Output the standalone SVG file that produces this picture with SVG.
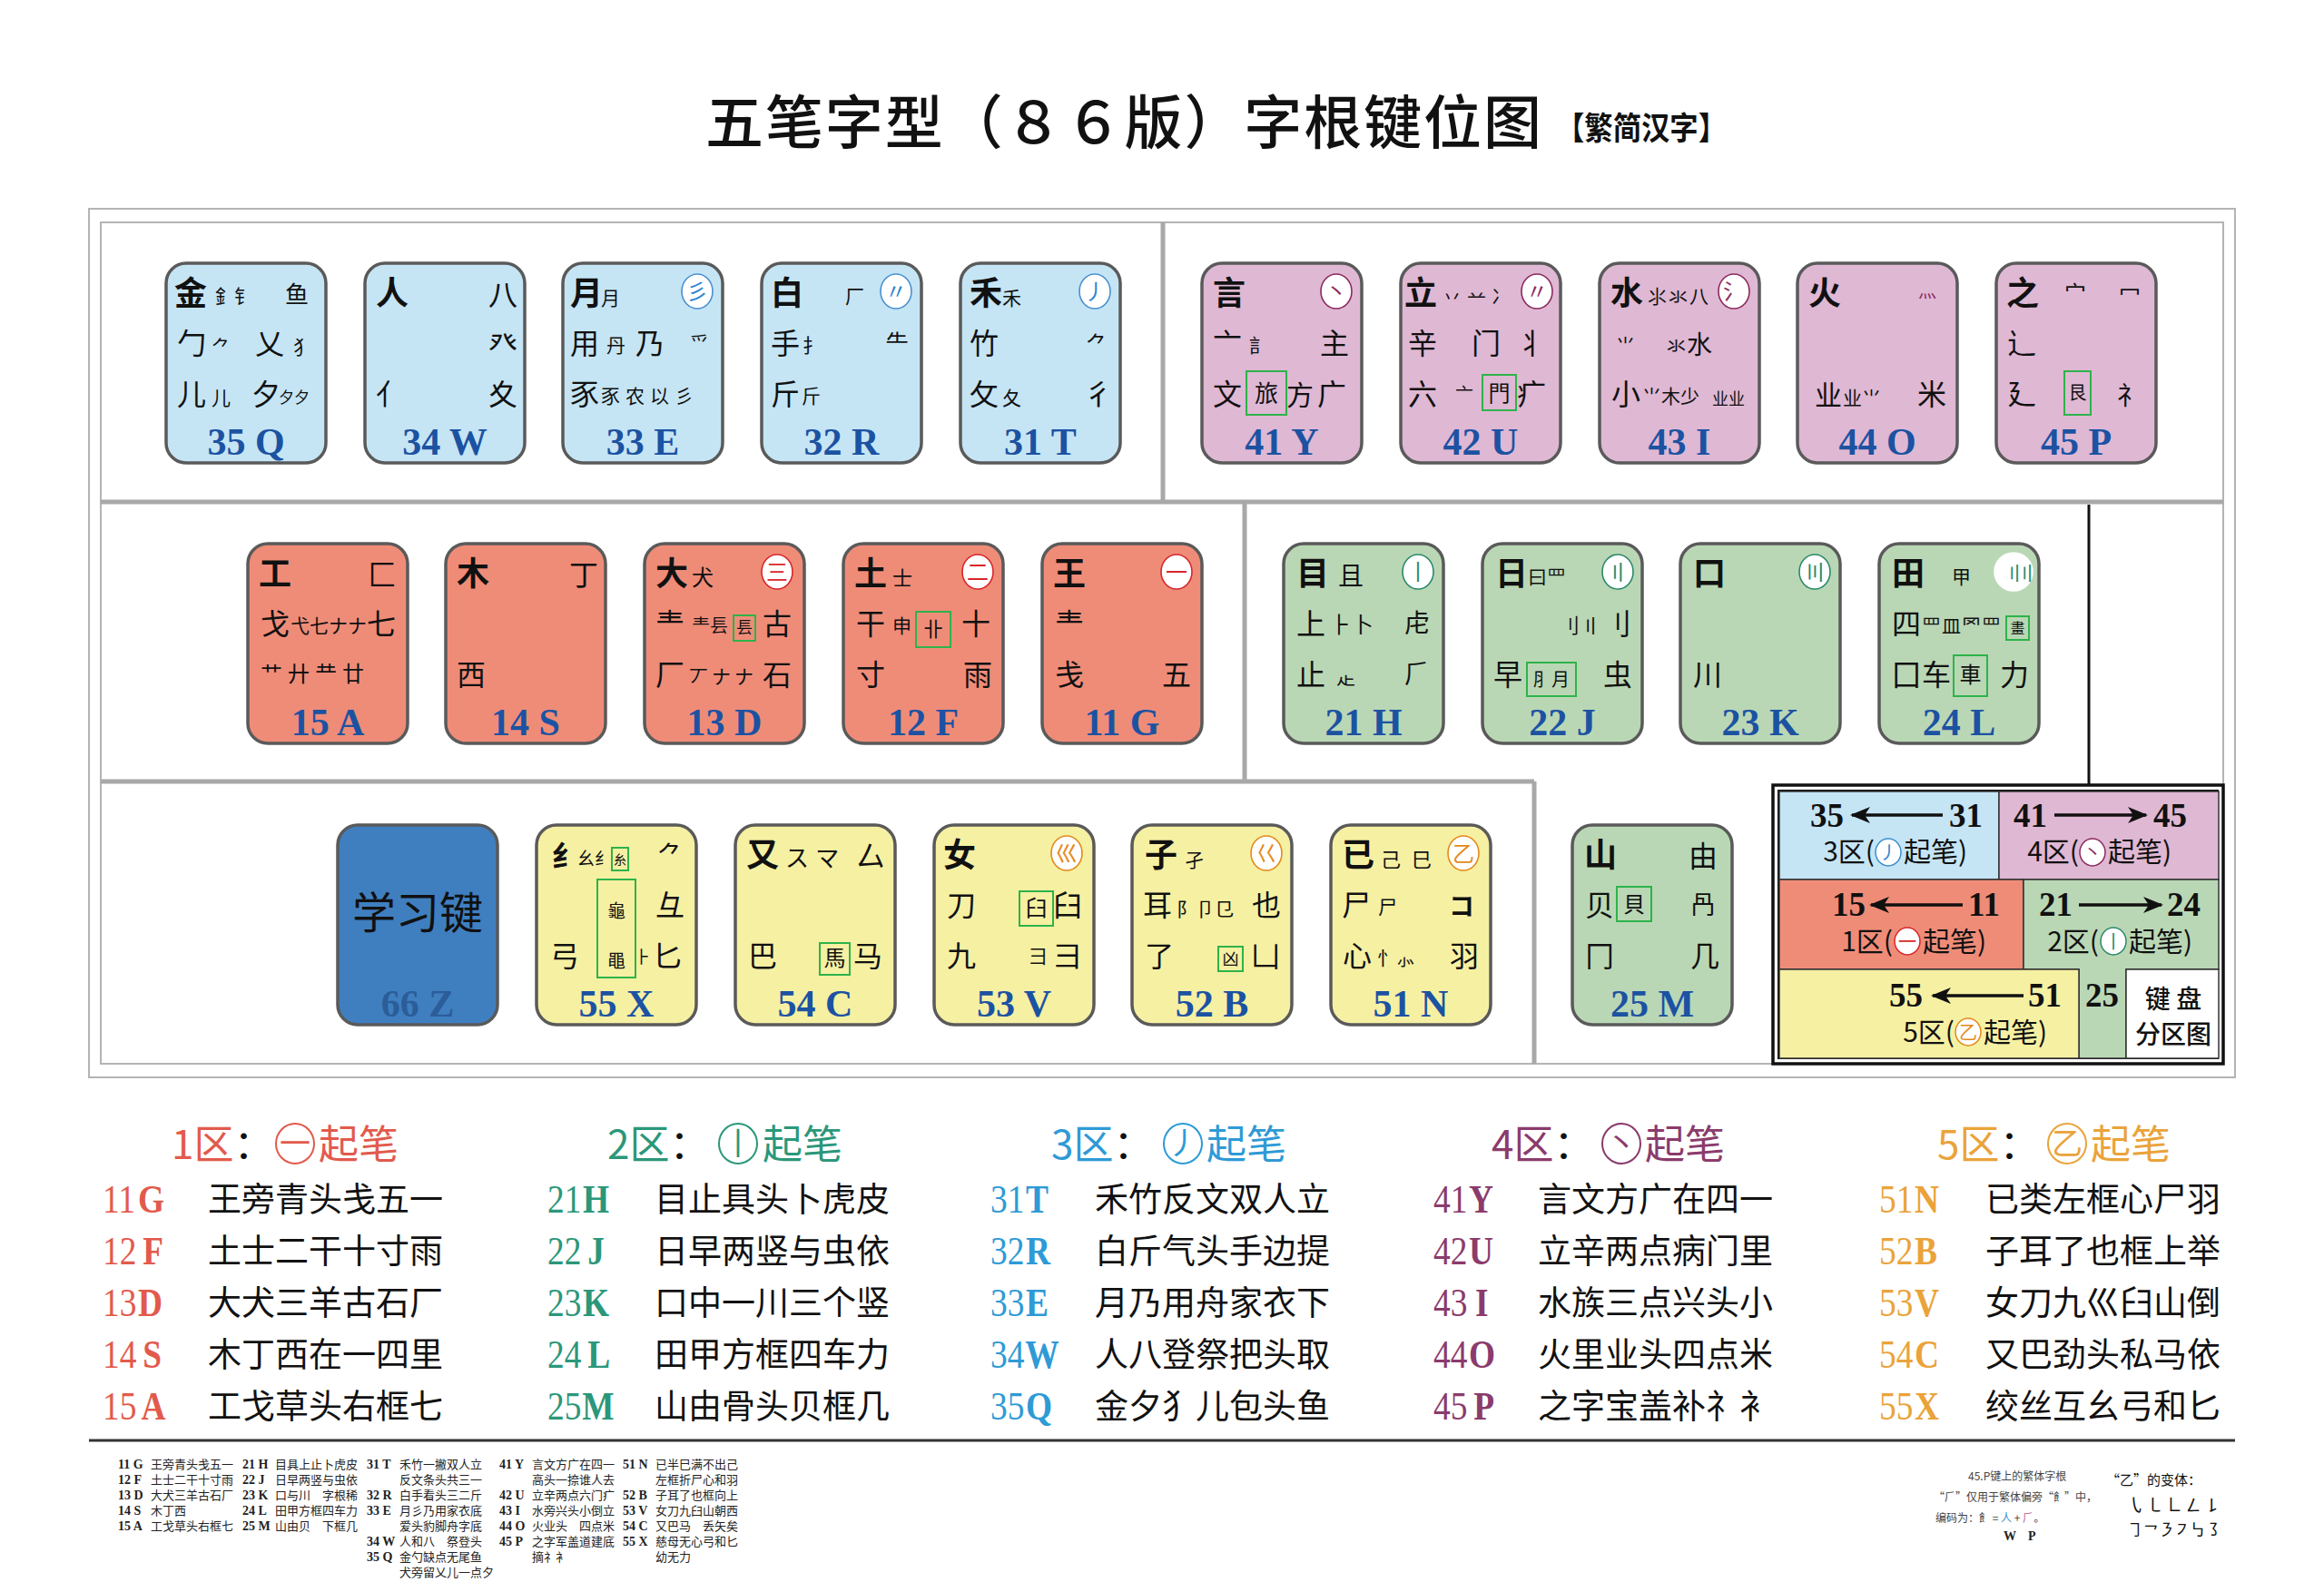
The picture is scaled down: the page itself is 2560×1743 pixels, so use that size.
<svg xmlns="http://www.w3.org/2000/svg" width="2560" height="1743" viewBox="0 0 2560 1743">
<defs>
<style>
text{font-family:"Noto Sans CJK SC","Noto Sans CJK JP",sans-serif;fill:#111}
.m{font-size:36px;font-weight:700}
.n{font-size:32px}
.s{font-size:21px}
.t{font-size:17px}
.k{stroke:#5a5a5a;stroke-width:3.5}
.c1{fill:#ef8c78}.c2{fill:#bad7b5}.c3{fill:#c5e5f5}.c4{fill:#dfb8d4}.c5{fill:#f6f0a3}
.lb{font-family:"Liberation Serif",serif;font-weight:700;font-size:42px;fill:#1c52a2;text-anchor:middle}
.gb{fill:none;stroke:#2db34a;stroke-width:2}
.ic{fill:#fff;stroke-width:1.6}
.it{font-size:24px;text-anchor:middle}
.ib{fill:#2f86cf}.ip{fill:#8c2a5c}.ir{fill:#d8262b}.ig{fill:#2a8a6a}.io{fill:#e48a1a}
.ln{font-family:"Liberation Serif",serif;font-weight:700;font-size:37px;fill:#111}
.zl{font-size:30px}
.hd{font-size:44px}
.cd{font-family:"Liberation Serif",serif;font-size:44px}
.cl{font-family:"Liberation Serif",serif;font-size:44px;font-weight:700}
.mn{font-size:37px}
.R{fill:#e25a4c}.G{fill:#2b977a}.B{fill:#2e9ad6}.P{fill:#8b3b6c}.O{fill:#eaa33a}
.blk{fill:#111}
.ft{font-size:13px;fill:#222}
.fc{font-family:"Liberation Serif",serif;font-weight:700;font-size:14px;fill:#222}
.sep{stroke:#a8a8a8;stroke-width:5;fill:none}
.fr{fill:none;stroke:#b4b4b4;stroke-width:2}
.lr{stroke:#333;stroke-width:1.5}
.arr{stroke:#111;stroke-width:3.5;fill:none;marker-end:url(#ah)}
</style>
<marker id="ah" markerUnits="userSpaceOnUse" markerWidth="22" markerHeight="18" refX="20" refY="9" orient="auto">
<path d="M0,0 L22,9 L0,18 L6,9 z" fill="#111"/>
</marker>
</defs>
<rect width="2560" height="1743" fill="#fff"/>

<g id="title">
<text x="777" y="158" textLength="921" lengthAdjust="spacing" style="font-size:64px;font-weight:500">五笔字型（８６版）字根键位图</text>
<text x="1714" y="154" textLength="188" lengthAdjust="spacingAndGlyphs" style="font-size:35px;font-weight:700">【繁简汉字】</text>
</g>

<g id="frame">
<rect class="fr" x="98" y="230" width="2364" height="957"/>
<rect class="fr" x="111" y="245" width="2338" height="927"/>
<line class="sep" x1="111" y1="553" x2="2449" y2="553"/>
<line class="sep" x1="1281" y1="245" x2="1281" y2="553"/>
<line class="sep" x1="1371" y1="553" x2="1371" y2="861"/>
<line class="sep" x1="111" y1="861" x2="1690" y2="861"/>
<line class="sep" x1="1690" y1="861" x2="1690" y2="1172"/>
<line x1="2301" y1="556" x2="2301" y2="866" stroke="#111" stroke-width="3"/>
</g>

<!-- Row 1: zone 3 -->
<g id="key-35Q" transform="translate(183,290)">
<rect class="k c3" width="176" height="220" rx="22"/>
<text class="m" x="9" y="46">金</text>
<text class="s" x="54" y="44">釒钅</text>
<text x="131" y="44" style="font-size:26px">鱼</text>
<text class="n" x="12" y="100">勹</text>
<text class="s" x="50" y="100">⺈</text>
<text class="n" x="98" y="100">乂</text>
<text class="s" x="140" y="100">犭</text>
<text class="n" x="12" y="156">儿</text>
<text class="s" x="50" y="156">儿</text>
<text class="n" x="94" y="156">夕</text>
<text class="t" x="124" y="154">夕夕</text>
<text class="lb" x="88" y="211">35 Q</text>
</g>
<g id="key-34W" transform="translate(402,290)">
<rect class="k c3" width="176" height="220" rx="22"/>
<text class="m" x="12" y="46">人</text>
<text class="n" x="136" y="46">八</text>
<text class="n" x="136" y="100">癶</text>
<text class="n" x="12" y="156">亻</text>
<text class="n" x="136" y="156">夊</text>
<text class="lb" x="88" y="211">34 W</text>
</g>
<g id="key-33E" transform="translate(620,290)">
<rect class="k c3" width="176" height="220" rx="22"/>
<text class="m" x="8" y="46">月</text>
<text class="s" x="42" y="46">月</text>
<g transform="translate(148,31)"><ellipse class="ic" rx="17" ry="19" stroke="#4a90d0"/><text class="it ib" y="9">彡</text></g>
<text class="n" x="8" y="100">用</text>
<text class="s" x="48" y="98">丹</text>
<text class="n" x="80" y="100">乃</text>
<text class="s" x="140" y="96">爫</text>
<text class="n" x="8" y="156">豕</text>
<text class="s" x="42" y="154" letter-spacing="6">豕农以彡</text>
<text class="lb" x="88" y="211">33 E</text>
</g>
<g id="key-32R" transform="translate(839,290)">
<rect class="k c3" width="176" height="220" rx="22"/>
<text class="m" x="10" y="46">白</text>
<text class="s" x="92" y="44">厂</text>
<g transform="translate(148,31)"><ellipse class="ic" rx="17" ry="19" stroke="#4a90d0"/><text class="it ib" y="9">〃</text></g>
<text class="n" x="10" y="100">手</text>
<text class="s" x="45" y="98">扌</text>
<text x="136" y="98" style="font-size:26px">⺧</text>
<text class="n" x="10" y="156">斤</text>
<text class="s" x="44" y="154">斤</text>
<text class="lb" x="88" y="211">32 R</text>
</g>
<g id="key-31T" transform="translate(1058,290)">
<rect class="k c3" width="176" height="220" rx="22"/>
<text class="m" x="10" y="46">禾</text>
<text class="s" x="46" y="46">禾</text>
<g transform="translate(148,31)"><ellipse class="ic" rx="17" ry="19" stroke="#4a90d0"/><text class="it ib" y="9">丿</text></g>
<text class="n" x="10" y="100">竹</text>
<text x="138" y="98" style="font-size:24px">⺈</text>
<text class="n" x="10" y="156">攵</text>
<text class="s" x="46" y="156">夂</text>
<text class="n" x="136" y="156">彳</text>
<text class="lb" x="88" y="211">31 T</text>
</g>

<!-- Row 1: zone 4 -->
<g id="key-41Y" transform="translate(1324,290)">
<rect class="k c4" width="176" height="220" rx="22"/>
<text class="m" x="12" y="46">言</text>
<g transform="translate(148,31)"><ellipse class="ic" rx="17" ry="19" stroke="#8c2a5c"/><text class="it ip" y="9">丶</text></g>
<text class="n" x="12" y="100">亠</text>
<text class="s" x="52" y="98">訁</text>
<text class="n" x="130" y="100">主</text>
<text class="n" x="12" y="156">文</text>
<rect class="gb" x="49" y="119" width="44" height="48"/>
<text x="71" y="153" style="font-size:26px;text-anchor:middle">旅</text>
<text x="93" y="156" style="font-size:30px">方</text>
<text class="n" x="127" y="156">广</text>
<text class="lb" x="88" y="211">41 Y</text>
</g>
<g id="key-42U" transform="translate(1543,290)">
<rect class="k c4" width="176" height="220" rx="22"/>
<text class="m" x="4" y="46">立</text>
<text class="s" x="46" y="44" letter-spacing="6">丷䒑冫</text>
<g transform="translate(150,31)"><ellipse class="ic" rx="17" ry="19" stroke="#8c2a5c"/><text class="it ip" y="9">〃</text></g>
<text class="n" x="8" y="100">辛</text>
<text class="n" x="78" y="100">门</text>
<text class="n" x="128" y="100">丬</text>
<text class="n" x="8" y="156">六</text>
<text x="60" y="152" style="font-size:20px">亠</text>
<rect class="gb" x="90" y="123" width="37" height="39"/>
<text x="108.5" y="152" style="font-size:24px;text-anchor:middle">門</text>
<text class="n" x="128" y="156">疒</text>
<text class="lb" x="88" y="211">42 U</text>
</g>
<g id="key-43I" transform="translate(1762,290)">
<rect class="k c4" width="176" height="220" rx="22"/>
<text class="m" x="12" y="46">水</text>
<text class="s" x="53" y="44" letter-spacing="2">⺢氺八</text>
<g transform="translate(148,31)"><ellipse class="ic" rx="17" ry="19" stroke="#8c2a5c"/><text class="it ip" y="9">氵</text></g>
<text class="s" x="18" y="98">⺌</text>
<text class="s" x="74" y="98">氺</text>
<text x="96" y="100" style="font-size:28px">水</text>
<text class="n" x="13" y="156">小</text>
<text class="s" x="47" y="154">⺌木少</text>
<text x="124" y="156" style="font-size:18px">业业</text>
<text class="lb" x="88" y="211">43 I</text>
</g>
<g id="key-44O" transform="translate(1980,290)">
<rect class="k c4" width="176" height="220" rx="22"/>
<text class="m" x="12" y="46">火</text>
<text class="ip" x="133" y="38" style="font-size:20px">灬</text>
<text x="19" y="156" style="font-size:30px">业</text>
<text class="s" x="50" y="156">业⺌</text>
<text class="n" x="132" y="156">米</text>
<text class="lb" x="88" y="211">44 O</text>
</g>
<g id="key-45P" transform="translate(2199,290)">
<rect class="k c4" width="176" height="220" rx="22"/>
<text class="m" x="11" y="46">之</text>
<text x="75" y="42" style="font-size:24px">宀</text>
<text x="135" y="42" style="font-size:24px">冖</text>
<text class="n" x="12" y="100">辶</text>
<text class="n" x="12" y="156">廴</text>
<rect class="gb" x="75" y="119" width="29" height="48"/>
<text x="89.5" y="150" style="font-size:20px;text-anchor:middle">艮</text>
<text x="133" y="156" style="font-size:28px">礻</text>
<text class="lb" x="88" y="211">45 P</text>
</g>

<!-- Row 2: zone 1 -->
<g id="key-15A" transform="translate(273,599)">
<rect class="k c1" width="176" height="220" rx="22"/>
<text class="m" x="12" y="46">工</text>
<text class="n" x="132" y="46">匚</text>
<text class="n" x="14" y="100">戈</text>
<text class="s" x="47" y="98">弋七ナナ</text>
<text class="n" x="131" y="100">七</text>
<text x="14" y="152" style="font-size:24px" letter-spacing="6">艹廾龷廿</text>
<text class="lb" x="88" y="211">15 A</text>
</g>
<g id="key-14S" transform="translate(491,599)">
<rect class="k c1" width="176" height="220" rx="22"/>
<text class="m" x="12" y="46">木</text>
<text class="n" x="136" y="46">丁</text>
<text class="n" x="12" y="156">西</text>
<text class="lb" x="88" y="211">14 S</text>
</g>
<g id="key-13D" transform="translate(710,599)">
<rect class="k c1" width="176" height="220" rx="22"/>
<text class="m" x="12" y="46">大</text>
<text x="52" y="46" style="font-size:24px">犬</text>
<g transform="translate(146,31)"><ellipse class="ic" rx="17" ry="19" stroke="#d8262b"/><text class="it ir" y="9">三</text></g>
<text class="n" x="12" y="100">龶</text>
<text x="52" y="98" style="font-size:20px">龶镸</text>
<rect class="gb" x="98" y="79" width="24" height="28"/>
<text x="110" y="99" style="font-size:18px;text-anchor:middle">镸</text>
<text class="n" x="130" y="100">古</text>
<text class="n" x="12" y="156">厂</text>
<text class="s" x="49" y="154" letter-spacing="4">丆ナナ</text>
<text class="n" x="130" y="156">石</text>
<text class="lb" x="88" y="211">13 D</text>
</g>
<g id="key-12F" transform="translate(929,599)">
<rect class="k c1" width="176" height="220" rx="22"/>
<text class="m" x="12" y="46">土</text>
<text x="54" y="46" style="font-size:22px">士</text>
<g transform="translate(148,31)"><ellipse class="ic" rx="17" ry="19" stroke="#d8262b"/><text class="it ir" y="9">二</text></g>
<text class="n" x="14" y="100">干</text>
<text class="s" x="54" y="98">申</text>
<rect class="gb" x="80" y="75" width="38" height="39"/>
<text x="99" y="102" style="font-size:22px;text-anchor:middle">卝</text>
<text class="n" x="130" y="100">十</text>
<text class="n" x="14" y="156">寸</text>
<text class="n" x="132" y="156">雨</text>
<text class="lb" x="88" y="211">12 F</text>
</g>
<g id="key-11G" transform="translate(1148,599)">
<rect class="k c1" width="176" height="220" rx="22"/>
<text class="m" x="12" y="46">王</text>
<g transform="translate(148,31)"><ellipse class="ic" rx="17" ry="19" stroke="#d8262b"/><text class="it ir" y="9">一</text></g>
<text class="n" x="14" y="100">龶</text>
<text class="n" x="14" y="156">戋</text>
<text class="n" x="132" y="156">五</text>
<text class="lb" x="88" y="211">11 G</text>
</g>

<!-- Row 2: zone 2 -->
<g id="key-21H" transform="translate(1414,599)">
<rect class="k c2" width="176" height="220" rx="22"/>
<text class="m" x="14" y="46">目</text>
<text x="60" y="46" style="font-size:28px">且</text>
<g transform="translate(148,31)"><ellipse class="ic" rx="17" ry="19" stroke="#2a8a6a"/><text class="it ig" y="9">丨</text></g>
<text class="n" x="14" y="100">上</text>
<text x="51" y="98" style="font-size:24px">⺊卜</text>
<text x="133" y="98" style="font-size:28px">虍</text>
<text class="n" x="14" y="156">止</text>
<text class="s" x="58" y="154">龰</text>
<text x="133" y="154" style="font-size:28px">⺁</text>
<text class="lb" x="88" y="211">21 H</text>
</g>
<g id="key-22J" transform="translate(1633,599)">
<rect class="k c2" width="176" height="220" rx="22"/>
<text class="m" x="14" y="46">日</text>
<text class="s" x="50" y="44">曰罒</text>
<g transform="translate(149,31)"><ellipse class="ic" rx="17" ry="19" stroke="#2a8a6a"/><text class="it ig" y="9">〢</text></g>
<text x="85" y="98" style="font-size:22px">刂</text>
<text x="108" y="98" style="font-size:22px">〢</text>
<text class="n" x="132" y="100">刂</text>
<text class="n" x="12" y="156">早</text>
<rect class="gb" x="49" y="131" width="54" height="37"/>
<text x="76" y="157" style="font-size:20px;text-anchor:middle">⺼月</text>
<text class="n" x="133" y="156">虫</text>
<text class="lb" x="88" y="211">22 J</text>
</g>
<g id="key-23K" transform="translate(1851,599)">
<rect class="k c2" width="176" height="220" rx="22"/>
<text class="m" x="14" y="46">口</text>
<g transform="translate(148,31)"><ellipse class="ic" rx="17" ry="19" stroke="#2a8a6a"/><text class="it ig" y="9">〣</text></g>
<text class="n" x="14" y="156">川</text>
<text class="lb" x="88" y="211">23 K</text>
</g>
<g id="key-24L" transform="translate(2070,599)">
<rect class="k c2" width="176" height="220" rx="22"/>
<text class="m" x="14" y="46">田</text>
<text class="s" x="80" y="44">甲</text>
<g transform="translate(148,31)"><ellipse class="ic" rx="21" ry="21" stroke="#fff" stroke-width="2.5"/><text class="it ig" x="4" y="9" letter-spacing="-8" style="font-size:22px">〢〢</text></g>
<text class="n" x="14" y="100">四</text>
<text class="s" x="47" y="98" letter-spacing="1">罒皿罓罒</text>
<rect class="gb" x="140" y="80" width="25" height="26"/>
<text x="152.5" y="99" style="font-size:16px;text-anchor:middle">畫</text>
<text class="n" x="14" y="156">囗</text>
<text class="n" x="47" y="156">车</text>
<rect class="gb" x="82" y="123" width="37" height="45"/>
<text x="100.5" y="153" style="font-size:24px;text-anchor:middle">車</text>
<text class="n" x="133" y="156">力</text>
<text class="lb" x="88" y="211">24 L</text>
</g>

<!-- Row 3 -->
<g id="key-66Z" transform="translate(372,909)">
<rect class="k" fill="#3f7fc0" width="176" height="220" rx="22"/>
<text x="88" y="114" style="font-size:48px;text-anchor:middle">学习键</text>
<text class="lb" x="88" y="211" style="fill:#2b5d99">66 Z</text>
</g>
<g id="key-55X" transform="translate(591,909)">
<rect class="k c5" width="176" height="220" rx="22"/>
<text x="17" y="46" style="font-size:32px;font-weight:700">纟</text>
<text x="45" y="44" style="font-size:19px">幺纟</text>
<rect class="gb" x="83" y="25" width="18" height="25"/>
<text x="92" y="43" style="font-size:14px;text-anchor:middle">糸</text>
<text x="133" y="44" style="font-size:28px">⺈</text>
<rect class="gb" x="67" y="60" width="42" height="108"/>
<text x="88" y="102" style="font-size:20px;text-anchor:middle">龜</text>
<text x="88" y="157" style="font-size:20px;text-anchor:middle">黽</text>
<text class="n" x="131" y="100">彑</text>
<text class="n" x="15" y="156">弓</text>
<text x="108" y="152" style="font-size:18px">⺊</text>
<text class="n" x="128" y="156">匕</text>
<text class="lb" x="88" y="211">55 X</text>
</g>
<g id="key-54C" transform="translate(810,909)">
<rect class="k c5" width="176" height="220" rx="22"/>
<text class="m" x="12" y="46">又</text>
<text x="55" y="46" style="font-size:26px" letter-spacing="8">スマ</text>
<text class="n" x="133" y="46">厶</text>
<text class="n" x="14" y="156">巴</text>
<rect class="gb" x="93" y="130" width="33" height="35"/>
<text x="109.5" y="155" style="font-size:24px;text-anchor:middle">馬</text>
<text class="n" x="130" y="156">马</text>
<text class="lb" x="88" y="211">54 C</text>
</g>
<g id="key-53V" transform="translate(1029,909)">
<rect class="k c5" width="176" height="220" rx="22"/>
<text class="m" x="10" y="46">女</text>
<g transform="translate(146,31)"><ellipse class="ic" rx="17" ry="19" stroke="#e48a1a"/><text class="it io" y="9">巛</text></g>
<text class="n" x="14" y="100">刀</text>
<rect class="gb" x="94" y="73" width="37" height="38"/>
<text x="112.5" y="100" style="font-size:24px;text-anchor:middle">臼</text>
<text class="n" x="131" y="100">臼</text>
<text class="n" x="14" y="156">九</text>
<text class="s" x="104" y="152">⺕</text>
<text class="n" x="131" y="156">彐</text>
<text class="lb" x="88" y="211">53 V</text>
</g>
<g id="key-52B" transform="translate(1247,909)">
<rect class="k c5" width="176" height="220" rx="22"/>
<text class="m" x="14" y="46">子</text>
<text class="s" x="58" y="46">孑</text>
<g transform="translate(148,31)"><ellipse class="ic" rx="17" ry="19" stroke="#e48a1a"/><text class="it io" y="9">巜</text></g>
<text class="n" x="12" y="100">耳</text>
<text class="s" x="49" y="100">阝卩㔾</text>
<text class="n" x="132" y="100">也</text>
<text class="n" x="14" y="156">了</text>
<rect class="gb" x="95" y="134" width="27" height="27"/>
<text x="108.5" y="154" style="font-size:18px;text-anchor:middle">凶</text>
<text class="n" x="131" y="156">凵</text>
<text class="lb" x="88" y="211">52 B</text>
</g>
<g id="key-51N" transform="translate(1466,909)">
<rect class="k c5" width="176" height="220" rx="22"/>
<text class="m" x="12" y="46">已</text>
<text x="55" y="46" style="font-size:22px" letter-spacing="12">己巳</text>
<g transform="translate(146,31)"><ellipse class="ic" rx="17" ry="19" stroke="#e48a1a"/><text class="it io" y="9">乙</text></g>
<text class="n" x="12" y="100">尸</text>
<text class="s" x="52" y="98">尸</text>
<text x="130" y="100" style="font-size:28px;font-weight:700">コ</text>
<text class="n" x="13" y="156">心</text>
<text class="s" x="51" y="154">忄⺗</text>
<text class="n" x="131" y="156">羽</text>
<text class="lb" x="88" y="211">51 N</text>
</g>
<g id="key-25M" transform="translate(1732,909)">
<rect class="k c2" width="176" height="220" rx="22"/>
<text class="m" x="13" y="46">山</text>
<text class="n" x="128" y="46">由</text>
<text class="n" x="14" y="100">贝</text>
<rect class="gb" x="49" y="68" width="38" height="38"/>
<text x="68" y="96" style="font-size:24px;text-anchor:middle">貝</text>
<text x="130" y="98" style="font-size:28px">冎</text>
<text class="n" x="14" y="156">冂</text>
<text class="n" x="130" y="156">几</text>
<text class="lb" x="88" y="211">25 M</text>
</g>

<!-- Legend -->
<g id="legend">
<rect x="1953" y="865" width="496" height="307" fill="#fff" stroke="#111" stroke-width="3.5"/>
<rect x="1959" y="871" width="484" height="295" fill="none" stroke="#111" stroke-width="2"/>
<rect class="lr" x="1960" y="872" width="242" height="97" fill="#c5e5f5"/>
<rect class="lr" x="2202" y="872" width="242" height="97" fill="#dfb8d4"/>
<rect class="lr" x="1960" y="969" width="269" height="99" fill="#ef8c78"/>
<path class="lr" d="M2229,969 H2444 V1068 H2342 V1166 H2290 V1068 H2229 Z" fill="#bad7b5"/>
<rect class="lr" x="1960" y="1068" width="330" height="98" fill="#f6f0a3"/>
<rect class="lr" x="2342" y="1068" width="102" height="98" fill="#fff"/>
<text class="ln" x="1994" y="911">35</text>
<text class="ln" x="2147" y="911">31</text>
<text class="ln" x="2218" y="911">41</text>
<text class="ln" x="2372" y="911">45</text>
<text class="ln" x="2018" y="1009">15</text>
<text class="ln" x="2168" y="1009">11</text>
<text class="ln" x="2246" y="1009">21</text>
<text class="ln" x="2387" y="1009">24</text>
<text class="ln" x="2081" y="1109">55</text>
<text class="ln" x="2234" y="1109">51</text>
<text class="ln" x="2297" y="1109">25</text>
<text class="zl" x="2065" y="949" text-anchor="end">3区(</text>
<ellipse cx="2080" cy="939" rx="14" ry="15" fill="#fff" stroke="#3a8fd0" stroke-width="1.5"/>
<text class="ib" x="2080" y="947" text-anchor="middle" style="font-size:20px">丿</text>
<text class="zl" x="2097" y="949">起笔)</text>
<text class="zl" x="2290" y="949" text-anchor="end">4区(</text>
<ellipse cx="2305" cy="939" rx="14" ry="15" fill="#fff" stroke="#8c2a5c" stroke-width="1.5"/>
<text class="ip" x="2305" y="947" text-anchor="middle" style="font-size:20px">丶</text>
<text class="zl" x="2322" y="949">起笔)</text>
<text class="zl" x="2085" y="1048" text-anchor="end">1区(</text>
<ellipse cx="2101" cy="1037" rx="14" ry="15" fill="#fff" stroke="#d8262b" stroke-width="1.5"/>
<text class="ir" x="2101" y="1045" text-anchor="middle" style="font-size:20px">一</text>
<text class="zl" x="2118" y="1048">起笔)</text>
<text class="zl" x="2312" y="1048" text-anchor="end">2区(</text>
<ellipse cx="2328" cy="1037" rx="14" ry="15" fill="#fff" stroke="#2a8a6a" stroke-width="1.5"/>
<text class="ig" x="2328" y="1045" text-anchor="middle" style="font-size:20px">丨</text>
<text class="zl" x="2345" y="1048">起笔)</text>
<text class="zl" x="2153" y="1148" text-anchor="end">5区(</text>
<ellipse cx="2168" cy="1137" rx="14" ry="15" fill="#fff" stroke="#e48a1a" stroke-width="1.5"/>
<text class="io" x="2168" y="1145" text-anchor="middle" style="font-size:20px">乙</text>
<text class="zl" x="2185" y="1148">起笔)</text>
<text x="2394" y="1111" text-anchor="middle" style="font-size:28px;font-weight:500">键 盘</text>
<text x="2394" y="1150" text-anchor="middle" style="font-size:28px;font-weight:500">分区图</text>
</g>

<g id="connectors">
<line class="arr" x1="2140" y1="898" x2="2040" y2="898"/>
<line class="arr" x1="2263" y1="898" x2="2364" y2="898"/>
<line class="arr" x1="2162" y1="997" x2="2061" y2="997"/>
<line class="arr" x1="2290" y1="997" x2="2381" y2="997"/>
<line class="arr" x1="2229" y1="1097" x2="2129" y2="1097"/>
</g>

<!-- Mnemonic table -->
<g id="zone1">
<text class="hd R" x="189" y="1277">1区<tspan class="blk">：</tspan></text>
<ellipse cx="325" cy="1260" rx="21" ry="22" fill="none" stroke="#e25a4c" stroke-width="2"/>
<text class="R" x="325" y="1272" text-anchor="middle" style="font-size:34px">一</text>
<text class="hd R" x="351" y="1277">起笔</text>
<g transform="translate(113,1336) scale(0.85,1)"><text class="cd R">11</text><text class="cl R" x="46">G</text></g>
<g transform="translate(113,1393) scale(0.85,1)"><text class="cd R">12</text><text class="cl R" x="52">F</text></g>
<g transform="translate(113,1450) scale(0.85,1)"><text class="cd R">13</text><text class="cl R" x="46">D</text></g>
<g transform="translate(113,1507) scale(0.85,1)"><text class="cd R">14</text><text class="cl R" x="52">S</text></g>
<g transform="translate(113,1564) scale(0.85,1)"><text class="cd R">15</text><text class="cl R" x="50">A</text></g>
<text class="mn" x="229" y="1335">王旁青头戋五一</text>
<text class="mn" x="229" y="1392">土士二干十寸雨</text>
<text class="mn" x="229" y="1449">大犬三羊古石厂</text>
<text class="mn" x="229" y="1506">木丁西在一四里</text>
<text class="mn" x="229" y="1563">工戈草头右框七</text>
</g>
<g id="zone2">
<text class="hd G" x="669" y="1277">2区<tspan class="blk">：</tspan></text>
<ellipse cx="813" cy="1260" rx="21" ry="22" fill="none" stroke="#2b977a" stroke-width="2"/>
<text class="G" x="813" y="1272" text-anchor="middle" style="font-size:34px">丨</text>
<text class="hd G" x="840" y="1277">起笔</text>
<g transform="translate(603,1336) scale(0.85,1)"><text class="cd G">21</text><text class="cl G" x="46">H</text></g>
<g transform="translate(603,1393) scale(0.85,1)"><text class="cd G">22</text><text class="cl G" x="52">J</text></g>
<g transform="translate(603,1450) scale(0.85,1)"><text class="cd G">23</text><text class="cl G" x="46">K</text></g>
<g transform="translate(603,1507) scale(0.85,1)"><text class="cd G">24</text><text class="cl G" x="52">L</text></g>
<g transform="translate(603,1564) scale(0.85,1)"><text class="cd G">25</text><text class="cl G" x="45">M</text></g>
<text class="mn" x="721" y="1335">目止具头卜虎皮</text>
<text class="mn" x="721" y="1392">日早两竖与虫依</text>
<text class="mn" x="721" y="1449">口中一川三个竖</text>
<text class="mn" x="721" y="1506">田甲方框四车力</text>
<text class="mn" x="721" y="1563">山由骨头贝框几</text>
</g>
<g id="zone3">
<text class="hd B" x="1158" y="1277">3区<tspan class="blk">：</tspan></text>
<ellipse cx="1303" cy="1260" rx="21" ry="22" fill="none" stroke="#2e9ad6" stroke-width="2"/>
<text class="B" x="1303" y="1272" text-anchor="middle" style="font-size:34px">丿</text>
<text class="hd B" x="1329" y="1277">起笔</text>
<g transform="translate(1091,1336) scale(0.85,1)"><text class="cd B">31</text><text class="cl B" x="46">T</text></g>
<g transform="translate(1091,1393) scale(0.85,1)"><text class="cd B">32</text><text class="cl B" x="46">R</text></g>
<g transform="translate(1091,1450) scale(0.85,1)"><text class="cd B">33</text><text class="cl B" x="46">E</text></g>
<g transform="translate(1091,1507) scale(0.85,1)"><text class="cd B">34</text><text class="cl B" x="45">W</text></g>
<g transform="translate(1091,1564) scale(0.85,1)"><text class="cd B">35</text><text class="cl B" x="46">Q</text></g>
<text class="mn" x="1206" y="1335">禾竹反文双人立</text>
<text class="mn" x="1206" y="1392">白斤气头手边提</text>
<text class="mn" x="1206" y="1449">月乃用舟家衣下</text>
<text class="mn" x="1206" y="1506">人八登祭把头取</text>
<text class="mn" x="1206" y="1563">金夕犭儿包头鱼</text>
</g>
<g id="zone4">
<text class="hd P" x="1643" y="1277">4区<tspan class="blk">：</tspan></text>
<ellipse cx="1786" cy="1260" rx="21" ry="22" fill="none" stroke="#8b3b6c" stroke-width="2"/>
<text class="P" x="1786" y="1272" text-anchor="middle" style="font-size:34px">丶</text>
<text class="hd P" x="1812" y="1277">起笔</text>
<g transform="translate(1579,1336) scale(0.85,1)"><text class="cd P">41</text><text class="cl P" x="46">Y</text></g>
<g transform="translate(1579,1393) scale(0.85,1)"><text class="cd P">42</text><text class="cl P" x="46">U</text></g>
<g transform="translate(1579,1450) scale(0.85,1)"><text class="cd P">43</text><text class="cl P" x="54">I</text></g>
<g transform="translate(1579,1507) scale(0.85,1)"><text class="cd P">44</text><text class="cl P" x="46">O</text></g>
<g transform="translate(1579,1564) scale(0.85,1)"><text class="cd P">45</text><text class="cl P" x="52">P</text></g>
<text class="mn" x="1694" y="1335">言文方广在四一</text>
<text class="mn" x="1694" y="1392">立辛两点病门里</text>
<text class="mn" x="1694" y="1449">水族三点兴头小</text>
<text class="mn" x="1694" y="1506">火里业头四点米</text>
<text class="mn" x="1694" y="1563">之字宝盖补礻衤</text>
</g>
<g id="zone5">
<text class="hd O" x="2134" y="1277">5区<tspan class="blk">：</tspan></text>
<ellipse cx="2277" cy="1260" rx="21" ry="22" fill="none" stroke="#eaa33a" stroke-width="2"/>
<text class="O" x="2277" y="1272" text-anchor="middle" style="font-size:34px">乙</text>
<text class="hd O" x="2303" y="1277">起笔</text>
<g transform="translate(2070,1336) scale(0.85,1)"><text class="cd O">51</text><text class="cl O" x="46">N</text></g>
<g transform="translate(2070,1393) scale(0.85,1)"><text class="cd O">52</text><text class="cl O" x="46">B</text></g>
<g transform="translate(2070,1450) scale(0.85,1)"><text class="cd O">53</text><text class="cl O" x="46">V</text></g>
<g transform="translate(2070,1507) scale(0.85,1)"><text class="cd O">54</text><text class="cl O" x="46">C</text></g>
<g transform="translate(2070,1564) scale(0.85,1)"><text class="cd O">55</text><text class="cl O" x="46">X</text></g>
<text class="mn" x="2187" y="1335">已类左框心尸羽</text>
<text class="mn" x="2187" y="1392">子耳了也框上举</text>
<text class="mn" x="2187" y="1449">女刀九巛臼山倒</text>
<text class="mn" x="2187" y="1506">又巴劲头私马依</text>
<text class="mn" x="2187" y="1563">绞丝互幺弓和匕</text>
</g>

<line x1="98" y1="1587" x2="2462" y2="1587" stroke="#333" stroke-width="3"/>

<g id="footer-left">
<text class="fc" x="130" y="1618">11 G</text><text class="ft" x="166" y="1618">王旁青头戋五一</text>
<text class="fc" x="130" y="1635">12 F</text><text class="ft" x="166" y="1635">土士二干十寸雨</text>
<text class="fc" x="130" y="1652">13 D</text><text class="ft" x="166" y="1652">大犬三羊古石厂</text>
<text class="fc" x="130" y="1669">14 S</text><text class="ft" x="166" y="1669">木丁西</text>
<text class="fc" x="130" y="1686">15 A</text><text class="ft" x="166" y="1686">工戈草头右框七</text>
<text class="fc" x="267" y="1618">21 H</text><text class="ft" x="303" y="1618">目具上止卜虎皮</text>
<text class="fc" x="267" y="1635">22 J</text><text class="ft" x="303" y="1635">日早两竖与虫依</text>
<text class="fc" x="267" y="1652">23 K</text><text class="ft" x="303" y="1652">口与川　字根稀</text>
<text class="fc" x="267" y="1669">24 L</text><text class="ft" x="303" y="1669">田甲方框四车力</text>
<text class="fc" x="267" y="1686">25 M</text><text class="ft" x="303" y="1686">山由贝　下框几</text>
<text class="fc" x="404" y="1618">31 T</text><text class="ft" x="440" y="1618">禾竹一撇双人立</text>
<text class="ft" x="440" y="1635">反文条头共三一</text>
<text class="fc" x="404" y="1652">32 R</text><text class="ft" x="440" y="1652">白手看头三二斤</text>
<text class="fc" x="404" y="1669">33 E</text><text class="ft" x="440" y="1669">月彡乃用家衣底</text>
<text class="ft" x="440" y="1686">爱头豹脚舟字底</text>
<text class="fc" x="404" y="1703">34 W</text><text class="ft" x="440" y="1703">人和八　祭登头</text>
<text class="fc" x="404" y="1720">35 Q</text><text class="ft" x="440" y="1720">金勺缺点无尾鱼</text>
<text class="ft" x="440" y="1737">犬旁留乂儿一点夕</text>
<text class="fc" x="550" y="1618">41 Y</text><text class="ft" x="586" y="1618">言文方广在四一</text>
<text class="ft" x="586" y="1635">高头一捺谁人去</text>
<text class="fc" x="550" y="1652">42 U</text><text class="ft" x="586" y="1652">立辛两点六门疒</text>
<text class="fc" x="550" y="1669">43 I</text><text class="ft" x="586" y="1669">水旁兴头小倒立</text>
<text class="fc" x="550" y="1686">44 O</text><text class="ft" x="586" y="1686">火业头　四点米</text>
<text class="fc" x="550" y="1703">45 P</text><text class="ft" x="586" y="1703">之字军盖道建底</text>
<text class="ft" x="586" y="1720">摘礻衤</text>
<text class="fc" x="686" y="1618">51 N</text><text class="ft" x="722" y="1618">已半巳满不出己</text>
<text class="ft" x="722" y="1635">左框折尸心和羽</text>
<text class="fc" x="686" y="1652">52 B</text><text class="ft" x="722" y="1652">子耳了也框向上</text>
<text class="fc" x="686" y="1669">53 V</text><text class="ft" x="722" y="1669">女刀九臼山朝西</text>
<text class="fc" x="686" y="1686">54 C</text><text class="ft" x="722" y="1686">又巴马　丢矢矣</text>
<text class="fc" x="686" y="1703">55 X</text><text class="ft" x="722" y="1703">慈母无心弓和匕</text>
<text class="ft" x="722" y="1720">幼无力</text>
</g>

<g id="footer-right">
<text class="ft" x="2168" y="1631" style="font-size:12px;fill:#444">45.P键上的繁体字根</text>
<text class="ft" x="2130" y="1654" style="font-size:12px;fill:#444">“⺁”仅用于繁体偏旁“飠”中，</text>
<text class="ft" x="2132" y="1677" style="font-size:12px;fill:#444">编码为：飠 = <tspan style="fill:#3a8fd0">人</tspan> + <tspan style="fill:#c06090">⺁</tspan>。</text>
<text class="fc" x="2207" y="1697">W</text>
<text class="fc" x="2234" y="1697">P</text>
<text x="2320" y="1636" style="font-size:15px">“乙”的变体：</text>
<text x="2343" y="1666" textLength="104" lengthAdjust="spacing" style="font-size:20px">㇂㇄㇗㇜㇙</text>
<text x="2343" y="1692" textLength="104" lengthAdjust="spacing" style="font-size:18px">㇆㇖㇋㇇㇉㇌</text>
</g>
</svg>
